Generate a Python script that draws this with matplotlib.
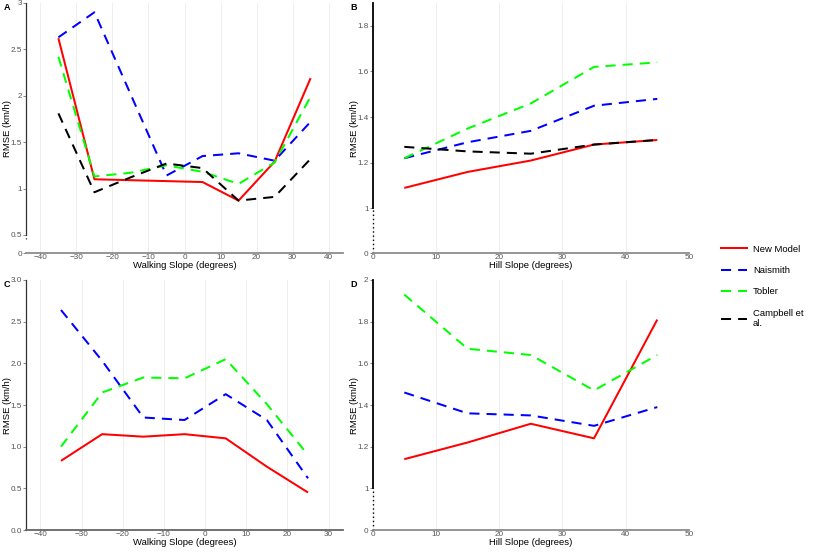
import numpy as np
import matplotlib
matplotlib.use("Agg")
import matplotlib.pyplot as plt
from matplotlib.lines import Line2D

plt.rcParams['font.family'] = ['Liberation Sans', 'DejaVu Sans']

# ---- data ----
walk_x_a = [-35, -25, -15, -5, 5, 15, 25, 35]
walk_x_c = [-35, -25, -15, -5, 5, 15, 25]
hill_x = [5, 15, 25, 35, 45]

a_new = [2.62, 1.10, 1.09, 1.08, 1.07, 0.87, 1.29, 2.19]
a_naismith = [2.63, 2.90, 2.02, 1.14, 1.35, 1.38, 1.30, 1.72]
a_tobler = [2.42, 1.13, 1.17, 1.25, 1.18, 1.05, 1.28, 1.99]
a_campbell = [1.81, 0.96, 1.12, 1.27, 1.22, 0.87, 0.91, 1.32]

b_new = [1.09, 1.16, 1.21, 1.28, 1.30]
b_naismith = [1.22, 1.29, 1.34, 1.45, 1.48]
b_tobler = [1.22, 1.35, 1.46, 1.62, 1.64]
b_campbell = [1.27, 1.25, 1.24, 1.28, 1.30]

c_new = [0.83, 1.15, 1.12, 1.15, 1.10, 0.76, 0.45]
c_naismith = [2.64, 2.03, 1.35, 1.32, 1.63, 1.32, 0.62]
c_tobler = [1.00, 1.65, 1.83, 1.82, 2.05, 1.51, 0.90]

d_new = [1.14, 1.22, 1.31, 1.24, 1.81]
d_naismith = [1.46, 1.36, 1.35, 1.30, 1.39]
d_tobler = [1.93, 1.67, 1.64, 1.47, 1.64]

labels = ['New Model', 'Naismith', 'Tobler', 'Campbell et\nal.']
colors = ['#FF0000', '#0000FF', '#00FF00', '#000000']

LW = 1.45
DASH = (5, 3.5)
TICKC = '#555555'


def broken(brk, ratio):
    # piecewise-linear y scale: compress everything below brk
    def fwd(v):
        v = np.asarray(v, dtype=float)
        return np.where(v < brk, v * ratio, v - brk + brk * ratio)

    def inv(t):
        t = np.asarray(t, dtype=float)
        return np.where(t < brk * ratio, t / ratio, t + brk - brk * ratio)
    return fwd, inv


def draw(ax, x, series):
    for i, y in enumerate(series):
        if i == 0:
            ax.plot(x, y, color=colors[i], lw=LW, solid_capstyle='butt')
        else:
            ax.plot(x, y, color=colors[i], lw=LW, dashes=DASH, dash_capstyle='butt')


def style(ax, xlabel, letter):
    for s in ['top', 'right']:
        ax.spines[s].set_visible(False)
    ax.spines['bottom'].set_color('#8C8C8C')
    ax.spines['bottom'].set_linewidth(1.3)
    ax.grid(axis='x', color='#EBEBEB', lw=0.6)
    ax.set_axisbelow(True)
    ax.tick_params(colors=TICKC, labelsize=5.9, length=2, width=0.5, pad=1)
    ax.tick_params(axis='x', length=0)
    ax.set_xlabel(xlabel, fontsize=6.8, labelpad=0)
    ax.set_ylabel('RMSE (km/h)', fontsize=6.8)
    ax.yaxis.set_label_coords(-0.044, 0.5)
    ax.text(-0.07, 1.0, letter, transform=ax.transAxes, fontsize=6.5,
            fontweight='bold', va='top', ha='left')


fig = plt.figure(figsize=(8.3, 5.54), dpi=100)
ax_a = fig.add_axes([0.0313, 0.5433, 0.382, 0.4513])
ax_b = fig.add_axes([0.449, 0.5433, 0.381, 0.4513])
ax_c = fig.add_axes([0.0313, 0.0433, 0.382, 0.4513])
ax_d = fig.add_axes([0.449, 0.0433, 0.381, 0.4513])

# A
draw(ax_a, walk_x_a, [a_new, a_naismith, a_tobler, a_campbell])
ax_a.set_yscale('function', functions=broken(0.5, 0.39))
ax_a.set_ylim(0, 3)
ax_a.set_xlim(-44, 44)
ax_a.set_xticks(range(-40, 41, 10))
ax_a.set_yticks([0, 0.5, 1, 1.5, 2, 2.5, 3])
ax_a.set_yticklabels(['0', '0.5', '1', '1.5', '2', '2.5', '3'])
style(ax_a, 'Walking Slope (degrees)', 'A')
ax_a.spines['left'].set_bounds(0.5, 3)
ax_a.spines['left'].set_color('#333333')
ax_a.spines['left'].set_linewidth(0.9)
ax_a.plot([-44, -44], [0.38, 0.5], color='#333333', lw=0.9, ls=(0, (1, 2)), clip_on=False)

# B
draw(ax_b, hill_x, [b_new, b_naismith, b_tobler, b_campbell])
ax_b.set_yscale('function', functions=broken(1, 0.195))
ax_b.set_ylim(0, 1.9)
ax_b.set_xlim(0, 50)
ax_b.set_xticks(range(0, 51, 10))
ax_b.set_yticks([0, 1, 1.2, 1.4, 1.6, 1.8])
ax_b.set_yticklabels(['0', '1', '1.2', '1.4', '1.6', '1.8'])
style(ax_b, 'Hill Slope (degrees)', 'B')
ax_b.spines['left'].set_bounds(1, 1.9)
ax_b.spines['left'].set_color('black')
ax_b.spines['left'].set_linewidth(1.3)
ax_b.plot([0, 0], [0, 1], color='black', lw=1.0, ls=(0, (1, 2)), clip_on=False)

# C
draw(ax_c, walk_x_c, [c_new, c_naismith, c_tobler])
ax_c.set_ylim(0, 3)
ax_c.set_xlim(-43.5, 33.5)
ax_c.set_xticks(range(-40, 31, 10))
ax_c.set_yticks(np.arange(0, 3.01, 0.5))
ax_c.set_yticklabels(['%.1f' % v for v in np.arange(0, 3.01, 0.5)])
style(ax_c, 'Walking Slope (degrees)', 'C')
ax_c.spines['left'].set_color('#333333')
ax_c.spines['left'].set_linewidth(0.9)
ax_c.spines['bottom'].set_color('#666666')

# D
draw(ax_d, hill_x, [d_new, d_naismith, d_tobler])
ax_d.set_yscale('function', functions=broken(1, 0.2))
ax_d.set_ylim(0, 2)
ax_d.set_xlim(0, 50)
ax_d.set_xticks(range(0, 51, 10))
ax_d.set_yticks([0, 1, 1.2, 1.4, 1.6, 1.8, 2])
ax_d.set_yticklabels(['0', '1', '1.2', '1.4', '1.6', '1.8', '2'])
style(ax_d, 'Hill Slope (degrees)', 'D')
ax_d.spines['left'].set_bounds(1, 2)
ax_d.spines['left'].set_color('black')
ax_d.spines['left'].set_linewidth(1.3)
ax_d.plot([0, 0], [0, 1], color='black', lw=1.0, ls=(0, (1, 2)), clip_on=False)

# legend
handles = [Line2D([], [], color=colors[0], lw=LW)]
for c in colors[1:]:
    handles.append(Line2D([], [], color=c, lw=LW, dashes=DASH))
fig.legend(handles, labels, loc='center left', bbox_to_anchor=(0.858, 0.483),
           frameon=False, fontsize=6.8, handlelength=2.8, handletextpad=0.6,
           labelspacing=1.3)

fig.savefig('out.png', dpi=100)
